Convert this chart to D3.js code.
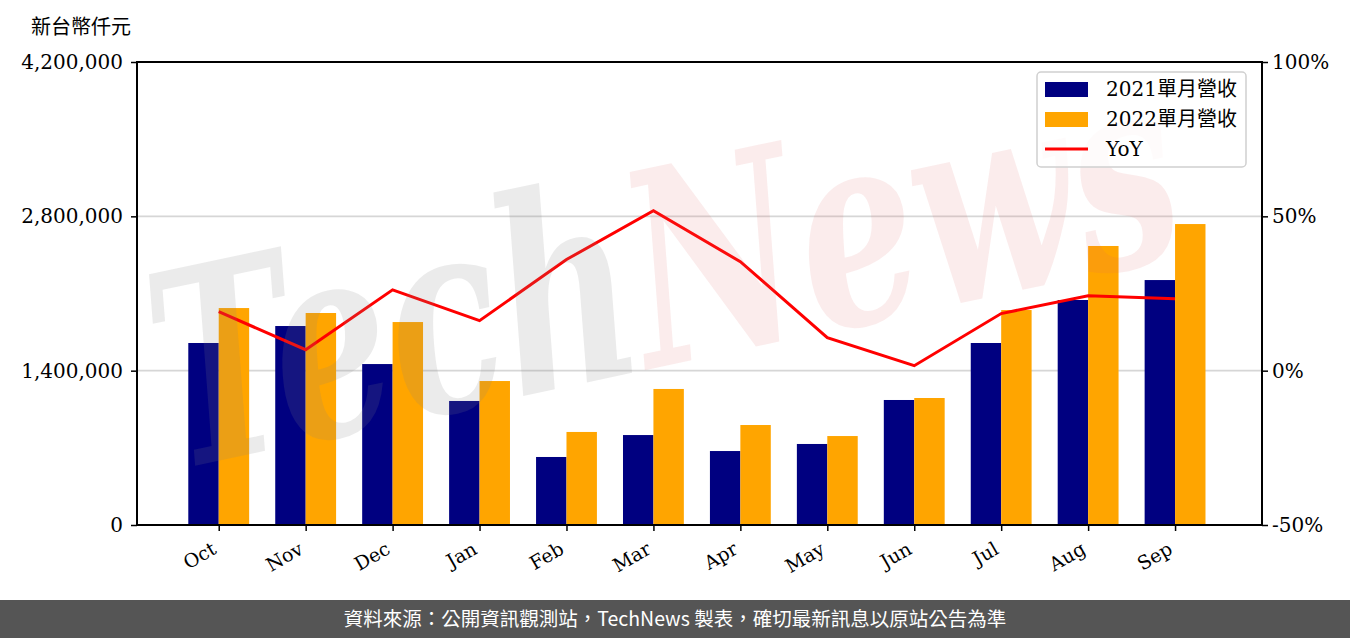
<!DOCTYPE html>
<html>
<head>
<meta charset="utf-8">
<script src="https://cdn.jsdelivr.net/npm/d3@7"></script>
<style>
  body { margin: 0; background: #fff; }
  svg { display: block; }
</style>
</head>
<body>
<div class="chart"></div>
<script>
'use strict'
var months = ['Oct', 'Nov', 'Dec', 'Jan', 'Feb', 'Mar', 'Apr', 'May', 'Jun', 'Jul', 'Aug', 'Sep']
var rev2021 = [1651000, 1805000, 1460000, 1125000, 617000, 816000, 671000, 735000, 1134000, 1651000, 2041000, 2222000]
var rev2022 = [1968000, 1923000, 1841000, 1306000, 844000, 1234000, 907000, 807000, 1152000, 1950000, 2531000, 2730000]
var yoy = [19.1, 6.8, 26.2, 16.2, 36.0, 51.8, 35.3, 10.7, 1.6, 18.5, 24.3, 23.3]
var leftTicks = [0, 1400000, 2800000, 4200000]
var rightTicks = [-50, 0, 50, 100]
var seriesNames = ['2021單月營收', '2022單月營收', 'YoY']

var width = 1350
var height = 638
var serif = '"DejaVu Serif", "Noto Sans CJK TC", serif'
var margin = { left: 137, right: 1262, top: 62, bottom: 525 }

var svg = d3.select('.chart').append('svg')
  .attr('width', width)
  .attr('height', height)

var x = d3.scaleLinear().domain([-0.94, 12]).range([margin.left, margin.right])
var y = d3.scaleLinear().domain([0, 4200000]).range([margin.bottom, margin.top])
var y2 = d3.scaleLinear().domain([-50, 100]).range([margin.bottom, margin.top])
var barW = 0.35

// grid
svg.append('g').selectAll('line')
  .data(leftTicks.slice(1, 3))
  .enter().append('line')
  .attr('x1', margin.left).attr('x2', margin.right)
  .attr('y1', function (d) { return y(d) }).attr('y2', function (d) { return y(d) })
  .attr('stroke', '#d6d6d6').attr('stroke-width', 1.6)

// bars
var bars = svg.append('g')
bars.selectAll('.b21').data(rev2021).enter().append('rect')
  .attr('x', function (d, i) { return x(i - barW) })
  .attr('y', function (d) { return y(d) })
  .attr('width', function () { return x(barW) - x(0) })
  .attr('height', function (d) { return y(0) - y(d) })
  .attr('fill', '#000080')
bars.selectAll('.b22').data(rev2022).enter().append('rect')
  .attr('x', function (d, i) { return x(i) })
  .attr('y', function (d) { return y(d) })
  .attr('width', function () { return x(barW) - x(0) })
  .attr('height', function (d) { return y(0) - y(d) })
  .attr('fill', '#ffa500')

// yoy line
svg.append('path')
  .datum(yoy)
  .attr('fill', 'none')
  .attr('stroke', '#ff0000')
  .attr('stroke-width', 3)
  .attr('d', d3.line().x(function (d, i) { return x(i) }).y(function (d) { return y2(d) }))

// watermark
var wm = svg.append('text')
  .attr('transform', 'translate(175,470) rotate(-12)')
  .attr('textLength', 1040)
  .attr('lengthAdjust', 'spacingAndGlyphs')
  .style('font-family', '"DejaVu Serif", serif')
  .style('font-style', 'italic')
  .style('font-weight', 'bold')
  .style('font-size', '270px')
wm.append('tspan').text('Tech').attr('fill', '#808080').attr('fill-opacity', 0.16)
wm.append('tspan').text('News').attr('fill', '#e06060').attr('fill-opacity', 0.12)

// axes
var xAxis = svg.append('g')
  .attr('transform', 'translate(0,' + margin.bottom + ')')
  .call(d3.axisBottom(x).tickValues(d3.range(months.length)).tickFormat(function (i) { return months[i] }).tickSize(6).tickSizeOuter(0))
xAxis.selectAll('text')
  .attr('x', 0).attr('y', 0)
  .attr('transform', 'translate(-5,22) rotate(-30)')
  .attr('text-anchor', 'end')
  .attr('dy', '0.35em')
  .style('font-family', serif).style('font-size', '19px').attr('fill', '#000')

var yAxis = svg.append('g')
  .attr('transform', 'translate(' + margin.left + ',0)')
  .call(d3.axisLeft(y).tickValues(leftTicks).tickFormat(d3.format(',')).tickSize(6).tickSizeOuter(0))
yAxis.selectAll('text').style('font-family', serif).style('font-size', '20px').attr('fill', '#000').attr('x', -14)

var y2Axis = svg.append('g')
  .attr('transform', 'translate(' + margin.right + ',0)')
  .call(d3.axisRight(y2).tickValues(rightTicks).tickFormat(function (d) { return d + '%' }).tickSize(6).tickSizeOuter(0))
y2Axis.selectAll('text').style('font-family', serif).style('font-size', '20px').attr('fill', '#000').attr('x', 10)

svg.selectAll('.domain').attr('stroke', 'none')
svg.selectAll('.tick line').attr('stroke', '#000').attr('stroke-width', 1.5)

// frame
svg.append('rect')
  .attr('x', margin.left).attr('y', margin.top)
  .attr('width', margin.right - margin.left).attr('height', margin.bottom - margin.top)
  .attr('fill', 'none').attr('stroke', '#000').attr('stroke-width', 2)

// unit label
svg.append('text')
  .attr('x', 31).attr('y', 34)
  .style('font-family', serif).style('font-size', '20px')
  .text('新台幣仟元')

// legend
var legend = svg.append('g').attr('transform', 'translate(1037,72)')
legend.append('rect')
  .attr('width', 209).attr('height', 95).attr('rx', 4)
  .attr('fill', '#fff').attr('fill-opacity', 0.8)
  .attr('stroke', '#d0d0d0').attr('stroke-width', 1.5)
var colors = ['#000080', '#ffa500', '#ff0000']
seriesNames.forEach(function (name, i) {
  var cy = 17 + i * 30
  if (i < 2) {
    legend.append('rect').attr('x', 8).attr('y', cy - 7).attr('width', 43).attr('height', 15).attr('fill', colors[i])
  } else {
    legend.append('line').attr('x1', 8).attr('x2', 51).attr('y1', cy).attr('y2', cy)
      .attr('stroke', colors[i]).attr('stroke-width', 3)
  }
  legend.append('text').attr('x', 69).attr('y', cy + 7)
    .style('font-family', serif).style('font-size', '20px')
    .text(name)
})

// footer
svg.append('rect').attr('x', 0).attr('y', 600).attr('width', width).attr('height', 38).attr('fill', '#555555')
svg.append('text')
  .attr('x', width / 2).attr('y', 626)
  .attr('text-anchor', 'middle')
  .attr('fill', '#fff')
  .style('font-family', '"Noto Sans CJK TC", sans-serif')
  .style('font-size', '19.5px')
  .text('資料來源：公開資訊觀測站，TechNews 製表，確切最新訊息以原站公告為準')
</script>
</body>
</html>
